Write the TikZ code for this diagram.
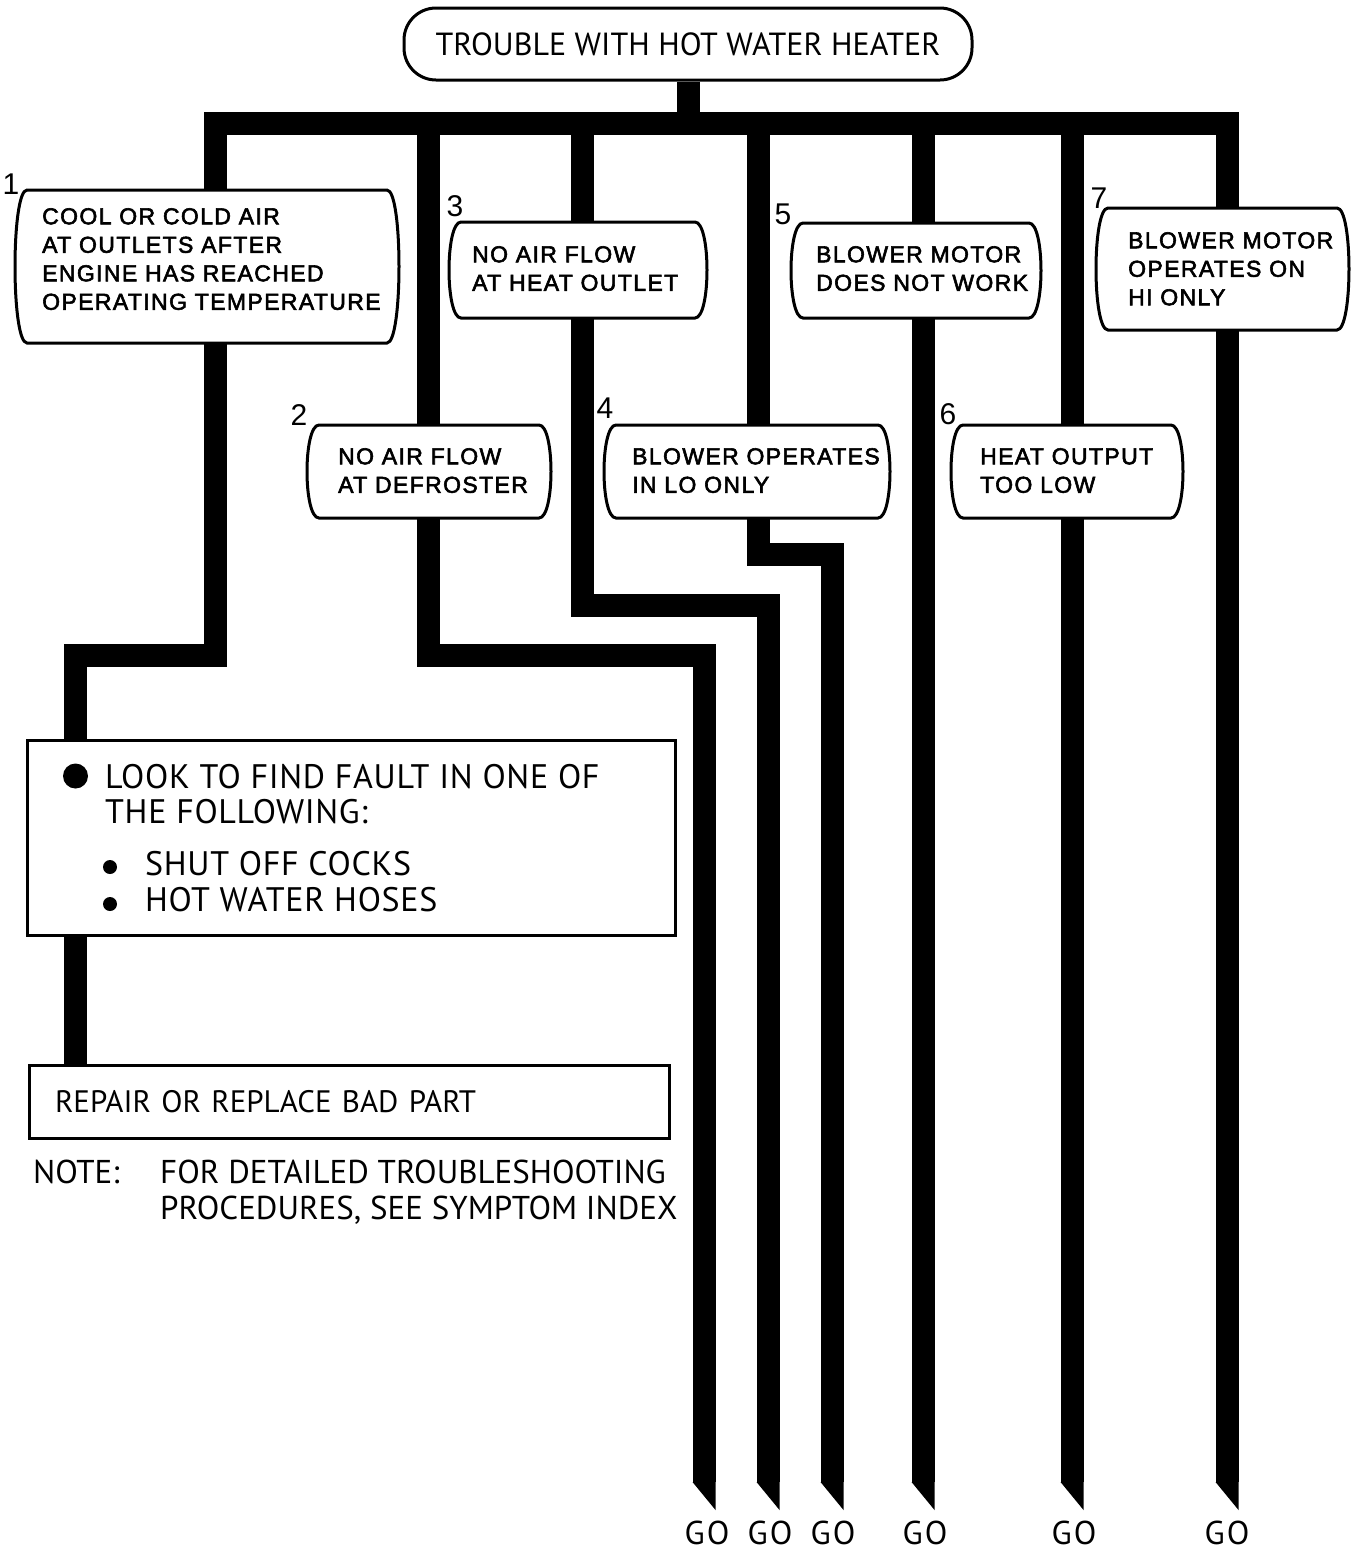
\documentclass[tikz,border=0pt]{standalone}
\usepackage{fontspec}
\setmainfont{Liberation Sans}
\newfontfamily\futfont{PT Sans}
\newfontfamily\futwide[LetterSpace=2]{PT Sans}
\newfontfamily\gofont[LetterSpace=6]{PT Sans}
\newfontfamily\symfont[LetterSpace=6,FakeBold=2.5]{Liberation Sans}
\usetikzlibrary{backgrounds}

\tikzset{
  flow/.style={line width=23pt, line join=miter, line cap=butt},
  boxline/.style={line width=3pt},
  symtxt/.style={font=\symfont\fontsize{23}{28.5}\selectfont, align=left, inner sep=0pt, anchor=north west},
  num/.style={font=\fontsize{30}{30}\selectfont, inner sep=0pt},
  fut/.style={font=\futfont\fontsize{31}{36}\selectfont, inner sep=0pt},
  futlook/.style={font=\futwide\fontsize{34}{36}\selectfont, inner sep=0pt, anchor=base west},
  futnote/.style={font=\futfont\fontsize{33}{36}\selectfont, inner sep=0pt, anchor=base west},
  golabel/.style={font=\gofont\fontsize{33}{33}\selectfont, inner sep=0pt, anchor=north},
  bul/.style={circle, fill=black, inner sep=0pt},
  sqbox/.style={draw, boxline, line join=miter, fill=white, inner sep=0pt},
}
\newcommand\barrel[4]{%
  \draw[boxline, fill=white] (#1+11,#2) -- (#3-11,#2)
    .. controls (#3+5,#2) and (#3+5,#4) .. (#3-11,#4) -- (#1+11,#4)
    .. controls (#1-5,#4) and (#1-5,#2) .. cycle;}
\newcommand\tip[1]{\fill (#1) ++(-11.5,0) -- ++(23,0) -- ++(0,28) -- cycle;}

\begin{document}
\begin{tikzpicture}[x=1pt,y=-1pt]
\useasboundingbox (0,0) rectangle (1353,1551);

% ---------- top node
\node[draw, boxline, fill=white, rounded corners=32pt, minimum width=568pt,
      minimum height=72pt, font=\futfont\fontsize{32}{36}\selectfont, inner sep=0pt] (top) at (688,44) {TROUBLE WITH HOT WATER HEATER};

% ---------- symptom texts
\node[symtxt] (s1) at (42,208) {COOL OR COLD AIR\\AT OUTLETS AFTER\\ENGINE HAS REACHED\\OPERATING TEMPERATURE};
\node[symtxt] (s2) at (338,448) {NO AIR FLOW\\AT DEFROSTER};
\node[symtxt] (s3) at (472,246) {NO AIR FLOW\\AT HEAT OUTLET};
\node[symtxt] (s4) at (632,448) {BLOWER OPERATES\\IN LO ONLY};
\node[symtxt] (s5) at (816,246) {BLOWER MOTOR\\DOES NOT WORK};
\node[symtxt] (s6) at (980,448) {HEAT OUTPUT\\TOO LOW};
\node[symtxt] (s7) at (1128,232) {BLOWER MOTOR\\OPERATES ON\\HI ONLY};

% ---------- numbers
\node[num] (n1) at (11,184) {1};
\node[num] (n2) at (299,415) {2};
\node[num] (n3) at (455,206) {3};
\node[num] (n4) at (605,408) {4};
\node[num] (n5) at (783,214) {5};
\node[num] (n6) at (948,414) {6};
\node[num] (n7) at (1099,198) {7};

% ---------- look box
\node[sqbox, minimum width=648pt, minimum height=195pt] (look) at (351,837.5) {};
\node[bul, minimum size=25pt] (b0) at (75.5,776) {};
\node[futlook] (l1) at (105,788) {LOOK TO FIND FAULT IN ONE OF};
\node[futlook] (l2) at (105,823) {THE FOLLOWING:};
\node[bul, minimum size=14pt] (b1) at (110,867) {};
\node[bul, minimum size=14pt] (b2) at (110,904) {};
\node[futlook] (l3) at (145,875) {SHUT OFF COCKS};
\node[futlook] (l4) at (145,911) {HOT WATER HOSES};

% ---------- repair box
\node[sqbox, fut, minimum height=73pt, text width=588pt, inner xsep=26pt, align=left] (repair) at (349,1101.5) {REPAIR OR REPLACE BAD PART};

% ---------- note
\node[futnote] (note) at (33,1183) {NOTE:};
\node[futnote] (note1) at (160,1183) {FOR DETAILED TROUBLESHOOTING};
\node[futnote] (note2) at (160,1219) {PROCEDURES, SEE SYMPTOM INDEX};

% ---------- GO labels
\node[golabel] (go2) at (707,1521) {GO};
\node[golabel] (go3) at (770,1521) {GO};
\node[golabel] (go4) at (833,1521) {GO};
\node[golabel] (go5) at (925,1521) {GO};
\node[golabel] (go6) at (1074,1521) {GO};
\node[golabel] (go7) at (1227,1521) {GO};

% ---------- connectors
\coordinate (barL) at (215,123);
\coordinate (barR) at (1227,123);
\coordinate (k1) at (75,655);
\coordinate (k2) at (215,655);
\coordinate (e2) at (704,1482);
\coordinate (e3) at (768,1482);
\coordinate (e4) at (832,1482);
\coordinate (e5) at (923,1482);
\coordinate (e6) at (1072,1482);
\coordinate (e7) at (1227,1482);

\begin{scope}[on background layer]
  \draw[flow] (top.south) -- (top.south |- barL);
  \draw[flow] (repair.north -| k1) -- (k1) -- (k2) -- (barL) -- (barR) -- (e7);
  \draw[flow] (428,123) -- (428,655) -- (e2 |- 0,655) -- (e2);
  \draw[flow] (582,123) -- (582,605) -- (e3 |- 0,605) -- (e3);
  \draw[flow] (758,123) -- (758,554) -- (e4 |- 0,554) -- (e4);
  \draw[flow] (e5 |- barL) -- (e5);
  \draw[flow] (e6 |- barL) -- (e6);
  \tip{e2}\tip{e3}\tip{e4}\tip{e5}\tip{e6}\tip{e7}
  % symptom boxes
  \barrel{16}{190}{398}{343}
  \barrel{308}{425}{550}{518}
  \barrel{450}{222}{706}{318}
  \barrel{605}{425}{889}{518}
  \barrel{792}{223}{1040}{318}
  \barrel{952}{425}{1182}{518}
  \barrel{1097}{208}{1348}{330}
\end{scope}
\end{tikzpicture}
\end{document}
